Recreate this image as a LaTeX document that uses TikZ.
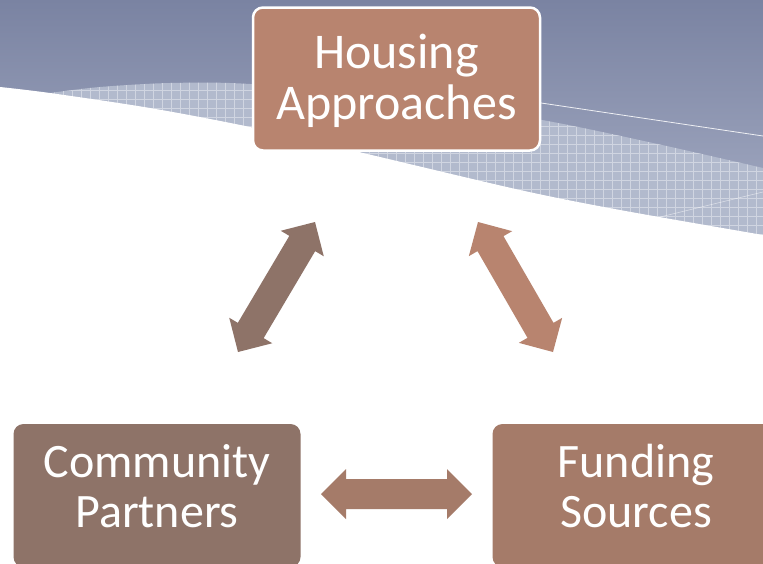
\documentclass[tikz,border=0pt]{standalone}
\usepackage{fontspec}
\setmainfont{Carlito}
\usetikzlibrary{calc}
\definecolor{hacol}{HTML}{B8846F}
\definecolor{cpcol}{HTML}{8E7368}
\definecolor{fscol}{HTML}{A57B69}
\definecolor{bgtop}{HTML}{7A83A2}
\definecolor{bgbot}{HTML}{A6ADC4}
\definecolor{hatchcol}{HTML}{B2BACD}
\newcommand\dblarrow[3]{%
  \coordinate (#1h) at ($(#1)!25pt!(#2)$);
  \coordinate (#2h) at ($(#2)!25pt!(#1)$);
  \fill[#3] (#1) -- ($(#1h)!25pt!90:(#2)$) -- ($(#1h)!15pt!90:(#2)$)
    -- ($(#2h)!15pt!-90:(#1)$) -- ($(#2h)!25pt!-90:(#1)$) -- (#2)
    -- ($(#2h)!25pt!90:(#1)$) -- ($(#2h)!15pt!90:(#1)$)
    -- ($(#1h)!15pt!-90:(#2)$) -- ($(#1h)!25pt!-90:(#2)$) -- cycle;}
\begin{document}
\begin{tikzpicture}[x=1pt,y=-1pt,
  box/.style={rectangle, rounded corners=10pt, minimum width=287pt,
    minimum height=143pt, text=white, align=center, inner sep=0pt},
  topfont/.style={font=\fontsize{50}{51}\selectfont},
  botfont/.style={font=\fontsize{48}{50}\selectfont}]
\useasboundingbox (0,0) rectangle (763,563);
% background
\shade[top color=bgtop, bottom color=bgbot] (0,0) rectangle (763,245);
\begin{scope}
  \clip plot[smooth] coordinates {(0,100) (50,93) (100,87) (170,83) (250,84) (400,98) (542,120) (653,143) (763,168)} -- (763,320) -- (0,320) -- cycle;
  \fill[hatchcol] (0,60) rectangle (763,320);
  \draw[white, opacity=0.4, line width=0.5pt, step=9pt] (0,60) grid (763,320);
\end{scope}
\draw[white, opacity=0.85, line width=0.8pt] (400,82) -- (763,136);
\draw[white, opacity=0.5, line width=0.6pt] (660,217) -- (763,192);
\fill[white] plot[smooth] coordinates {(0,87) (50,93) (150,108) (250,127) (363,153) (520,190) (620,210) (763,235)} -- (763,563) -- (0,563) -- cycle;
% boxes
\node[box, topfont, fill=hacol, draw=white, line width=2.5pt] (ha) at (396.5,79) {\rule{0pt}{38pt}Housing\\Approaches};
\node[box, botfont, fill=cpcol] (cp) at (157,495.5) {Community\\Partners\rule[-20pt]{0pt}{20pt}};
\node[box, botfont, fill=fscol] (fs) at (636,495.5) {Funding\\Sources\rule[-20pt]{0pt}{20pt}};
% arrows
\coordinate (a1) at (315,222);
\coordinate (a2) at (238,352);
\coordinate (b1) at (478,222);
\coordinate (b2) at (553,352);
\coordinate (c1) at (321,494);
\coordinate (c2) at (472,494);
\dblarrow{a1}{a2}{cpcol}
\dblarrow{b1}{b2}{hacol}
\dblarrow{c1}{c2}{fscol}
\end{tikzpicture}
\end{document}
